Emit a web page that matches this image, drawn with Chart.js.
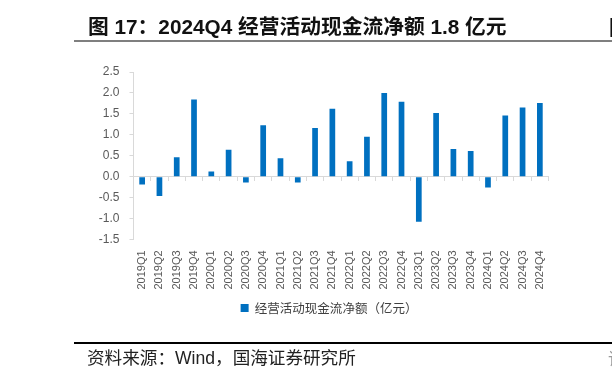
<!DOCTYPE html>
<html>
<head>
<meta charset="utf-8">
<script src="https://cdn.jsdelivr.net/npm/chart.js@4/dist/chart.umd.min.js"></script>
<style>
  html, body { margin: 0; padding: 0; width: 612px; height: 379px; overflow: hidden; background: #fff; }
  #wrap { position: absolute; left: 0; top: 0; width: 612px; height: 379px; }
  .title { position: absolute; left: 88px; top: 16px; font: bold 20.75px "Liberation Sans", "Noto Sans CJK SC", sans-serif; line-height: 22px; color: #111; white-space: nowrap; }
  .tline { position: absolute; left: 74px; top: 39.5px; width: 538px; height: 2px; background: #7f7f7f; }
  .fline { position: absolute; left: 74px; top: 342px; width: 538px; height: 1.5px; background: #000; }
  .foot { position: absolute; left: 87px; top: 348px; font: 17.6px "Liberation Sans", "Noto Sans CJK SC", sans-serif; line-height: 20px; color: #222; white-space: nowrap; }
  .edge1 { position: absolute; left: 609px; top: 16px; font: bold 20px "Noto Sans CJK SC"; line-height: 22px; color: #111; }
  .edge2 { position: absolute; left: 608px; top: 348px; font: 17px "Noto Sans CJK SC"; line-height: 20px; color: #999; }
</style>
</head>
<body>
<div id="wrap"><canvas id="c" width="612" height="379"></canvas></div>
<div class="title">图 17：2024Q4 经营活动现金流净额 1.8 亿元</div>
<div class="tline"></div>
<div class="fline"></div>
<div class="foot">资料来源：Wind，国海证券研究所</div>
<div class="edge1">图</div>
<div class="edge2">请</div>
<script>
const categories = ["2019Q1","2019Q2","2019Q3","2019Q4","2020Q1","2020Q2","2020Q3","2020Q4",
  "2021Q1","2021Q2","2021Q3","2021Q4","2022Q1","2022Q2","2022Q3","2022Q4",
  "2023Q1","2023Q2","2023Q3","2023Q4","2024Q1","2024Q2","2024Q3","2024Q4"];
const netCashFlow = [-0.19,-0.46,0.46,1.84,0.12,0.64,-0.14,1.23,
  0.44,-0.14,1.16,1.62,0.37,0.95,2.00,1.79,
  -1.08,1.52,0.66,0.61,-0.26,1.46,1.65,1.76];
const seriesName = "经营活动现金流净额（亿元）";
const yMin = -1.5, yMax = 2.5, yStep = 0.5;

const legendShift = {
  id: 'legendShift',
  afterLayout(chart) {
    const lg = chart.legend;
    if (lg) { lg.left += 8; lg.right += 8; }
  }
};

new Chart(document.getElementById('c'), {
  type: 'bar',
  data: {
    labels: categories,
    datasets: [{
      label: seriesName,
      data: netCashFlow,
      backgroundColor: '#0070C0',
      borderWidth: 0,
      barPercentage: 0.33,
      categoryPercentage: 1.0
    }]
  },
  plugins: [legendShift],
  options: {
    responsive: false,
    animation: false,
    devicePixelRatio: 1,
    layout: { padding: { left: 93.5, right: 63.5, top: 72, bottom: 54.75 } },
    plugins: {
      tooltip: { enabled: false },
      legend: {
        position: 'bottom',
        labels: {
          boxWidth: 8, boxHeight: 8, padding: 10,
          color: '#404040',
          font: { size: 12.5, family: '"Noto Sans CJK SC", "Liberation Sans", sans-serif' }
        }
      }
    },
    scales: {
      x: {
        position: 'bottom',
        grid: { display: false, drawTicks: false },
        border: { display: false },
        ticks: {
          autoSkip: false, minRotation: 90, maxRotation: 90, padding: 11,
          color: '#595959',
          font: { size: 11, family: '"Liberation Sans", Arial, sans-serif' }
        },
        afterFit: s => { s.height = 52.35; }
      },
      x2: {
        type: 'category',
        labels: categories,
        position: { y: 0 },
        offset: true,
        grid: { drawOnChartArea: false, drawTicks: true, tickLength: 4, offset: true, color: '#d9d9d9', lineWidth: 1 },
        border: { display: true, color: '#d9d9d9', width: 1 },
        ticks: { display: false }
      },
      y: {
        min: yMin, max: yMax,
        grid: { drawOnChartArea: false, drawTicks: true, tickLength: 4, color: '#d9d9d9' },
        border: { display: true, color: '#d9d9d9', width: 1 },
        ticks: {
          stepSize: yStep, padding: 10, color: '#595959',
          font: { size: 12, family: '"Liberation Sans", Arial, sans-serif' },
          callback: v => Number(v).toFixed(1)
        },
        afterFit: s => { s.width = 40; }
      }
    }
  }
});
</script>
</body>
</html>
